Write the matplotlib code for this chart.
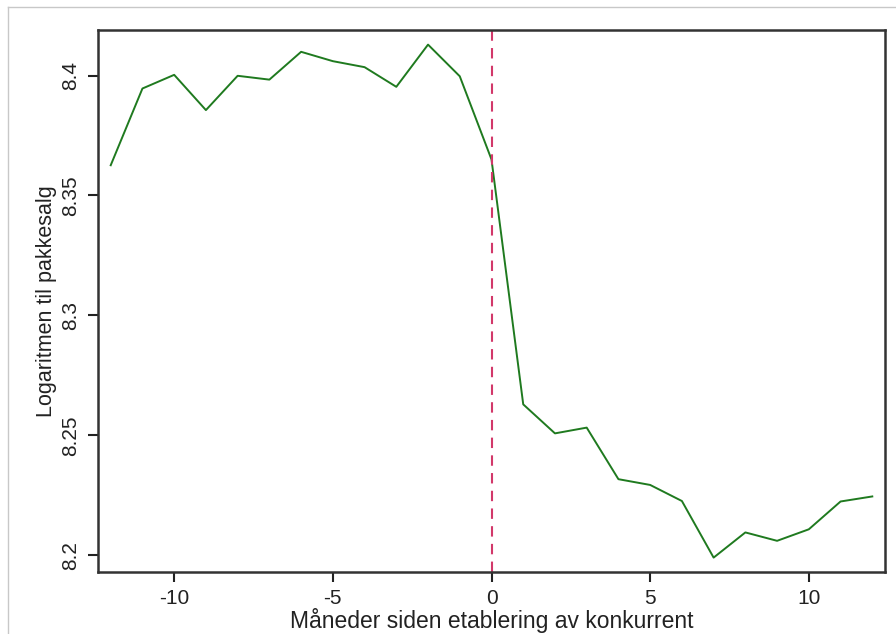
"""
Log package sales by month relative to competitor entry.
"""

import matplotlib
matplotlib.use("Agg")
import matplotlib.pyplot as plt
from matplotlib.lines import Line2D

# months relative to entry
months = list(range(-12, 13))
# log of package sales
log_sales = [8.3626, 8.3946, 8.4003, 8.3856, 8.3999, 8.3983, 8.4099, 8.4060,
             8.4035, 8.3953, 8.4129, 8.3997, 8.3650, 8.2629, 8.2508, 8.2532,
             8.2317, 8.2293, 8.2226, 8.1990, 8.2095, 8.2060, 8.2108, 8.2224,
             8.2245]

x_ticks = [-10, -5, 0, 5, 10]
y_ticks = [8.2, 8.25, 8.3, 8.35, 8.4]
y_tick_labels = ["8.2", "8.25", "8.3", "8.35", "8.4"]

plt.rcParams['font.family'] = ['Liberation Sans', 'DejaVu Sans']
plt.rcParams['axes.unicode_minus'] = False

fig = plt.figure(figsize=(8.96, 6.34), dpi=100)
ax = fig.add_axes([0.1094, 0.0978, 0.8783, 0.8549])

ax.plot(months, log_sales, color='#1f7a1f', linewidth=1.4)
ax.axvline(0, color='#d2386a', linestyle=(0, (5, 3.5)), linewidth=1.5)

ax.set_xlim(-12.4, 12.4)
ax.set_ylim(8.193, 8.419)
ax.set_xticks(x_ticks)
ax.set_yticks(y_ticks)
ax.set_yticklabels(y_tick_labels, rotation=90, va='center')

ax.tick_params(axis='both', labelsize=15, length=7, width=1.5,
               colors='#222222')
ax.tick_params(axis='x', pad=5)
ax.tick_params(axis='y', pad=6)
for s in ax.spines.values():
    s.set_linewidth(1.8)
    s.set_color('#333333')

ax.set_xlabel('Måneder siden etablering av konkurrent', fontsize=16.5,
              labelpad=0, color='#222222')
ax.set_ylabel('Logaritmen til pakkesalg', fontsize=15.5, labelpad=3,
              color='#222222')

# light frame around the figure
fig.add_artist(Line2D([8 / 896, 1], [1 - 7 / 634, 1 - 7 / 634],
                      transform=fig.transFigure, color='#c8c8c8', linewidth=1))
fig.add_artist(Line2D([8 / 896, 8 / 896], [0, 1 - 7 / 634],
                      transform=fig.transFigure, color='#c8c8c8', linewidth=1))

fig.savefig('out.png', dpi=100)
